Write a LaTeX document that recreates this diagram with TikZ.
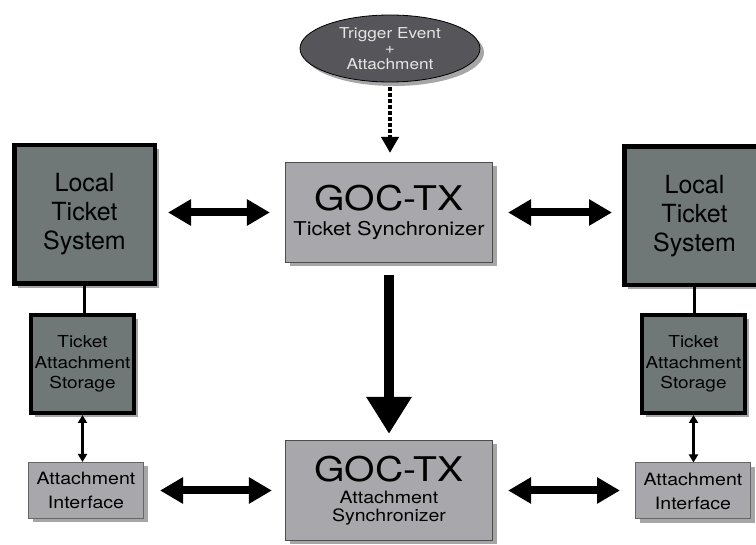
\documentclass[tikz,border=0pt]{standalone}
\usepackage{fontspec}
\setmainfont{TeX Gyre Heros}
\newfontfamily\widefont[FakeStretch=1.15]{TeX Gyre Heros}
\usetikzlibrary{arrows.meta,shapes.geometric,shadows}
\definecolor{systemgray}{RGB}{112,119,119}
\definecolor{syncgray}{RGB}{168,168,172}
\definecolor{eventgray}{RGB}{85,85,90}
\tikzset{
  softshadow/.style={drop shadow={shadow xshift=4pt,shadow yshift=-4pt,opacity=0.35,fill=black}},
  system/.style={draw,line width=4.5pt,fill=systemgray,softshadow,align=center,
    minimum width=140.5pt,minimum height=138.5pt,font=\fontsize{25}{29}\selectfont},
  storage/.style={draw,line width=4pt,fill=systemgray,softshadow,align=center,
    minimum width=97pt,minimum height=98pt,font=\widefont\fontsize{16.5}{20.5}\selectfont},
  sync/.style={draw=black!70,line width=1.2pt,fill=syncgray,softshadow,align=center,
    minimum width=207pt,minimum height=100pt},
  iface/.style={draw=black!60,line width=1pt,fill=syncgray,softshadow,align=center,
    minimum width=115pt,minimum height=56pt,font=\widefont\fontsize{17}{24}\selectfont},
  event/.style={ellipse,draw,line width=0.8pt,fill=eventgray,text=white!90!black,softshadow,
    align=center,minimum width=180pt,minimum height=67pt,inner sep=0pt,
    font=\widefont\fontsize{15}{15.5}\selectfont},
  biarrow/.style={line width=8pt,{Triangle[length=23pt,width=25pt]}-{Triangle[length=23pt,width=25pt]}},
  thinarrow/.style={line width=2.5pt,{Triangle[length=8pt,width=9pt]}-{Triangle[length=8pt,width=9pt]}},
  downarrow/.style={line width=10pt,-{Triangle[length=37pt,width=43pt]}},
  dotarrow/.style={line width=4pt,dash pattern=on 3.5pt off 2.5pt,-{Triangle[length=16pt,width=17pt]}},
}
\begin{document}
\begin{tikzpicture}[x=1pt,y=-1pt]
  \useasboundingbox (0,0) rectangle (756,545);
  \node[event] (event) at (390,48.5) {Trigger Event\\+\\Attachment};
  \node[sync,font=\widefont\fontsize{19}{17}\selectfont] (tsync) at (389,212.5)
    {{\fontsize{34}{34}\selectfont GOC-TX}\\[8pt]Ticket Synchronizer};
  \node[sync,font=\widefont\fontsize{17}{17.5}\selectfont] (async) at (389,490.5)
    {{\fontsize{34}{34}\selectfont GOC-TX}\\[5pt]Attachment\\Synchronizer};
  \node[system] (lts1) at (84.5,214.5) {Local\\Ticket\\System};
  \node[system] (lts2) at (694.5,216) {Local\\Ticket\\System};
  \node[storage] (tas1) at (82.5,364) {Ticket\\Attachment\\Storage};
  \node[storage] (tas2) at (693.5,364) {Ticket\\Attachment\\Storage};
  \node[iface] (ai1) at (86,490.5) {Attachment\\Interface};
  \node[iface] (ai2) at (693,491) {Attachment\\Interface};
  \begin{scope}
    \draw[dotarrow,shorten <=5pt,shorten >=9pt] (event.south) -- (event.south |- tsync.north);
    \draw[downarrow,shorten <=12pt,shorten >=6pt] (tsync.south) -- (async.north);
    \draw[biarrow,shorten <=11pt,shorten >=15pt] (lts1.east |- tsync) -- (tsync.west);
    \draw[biarrow,shorten <=15pt,shorten >=10pt] (tsync.east) -- (tsync.east -| lts2.west);
    \draw[biarrow,shorten <=16pt,shorten >=13pt] (ai1.east |- async) -- (async.west);
    \draw[biarrow,shorten <=15pt,shorten >=15pt] (async.east) -- (async.east -| ai2.west);
    \draw[line width=3pt] (lts1.south) -- (lts1.south |- tas1.north);
    \draw[line width=3pt] (lts2.south) -- (lts2.south |- tas2.north);
    \draw[thinarrow] (tas1.south) -- (tas1.south |- ai1.north);
    \draw[thinarrow] (tas2.south) -- (tas2.south |- ai2.north);
  \end{scope}
\end{tikzpicture}
\end{document}
